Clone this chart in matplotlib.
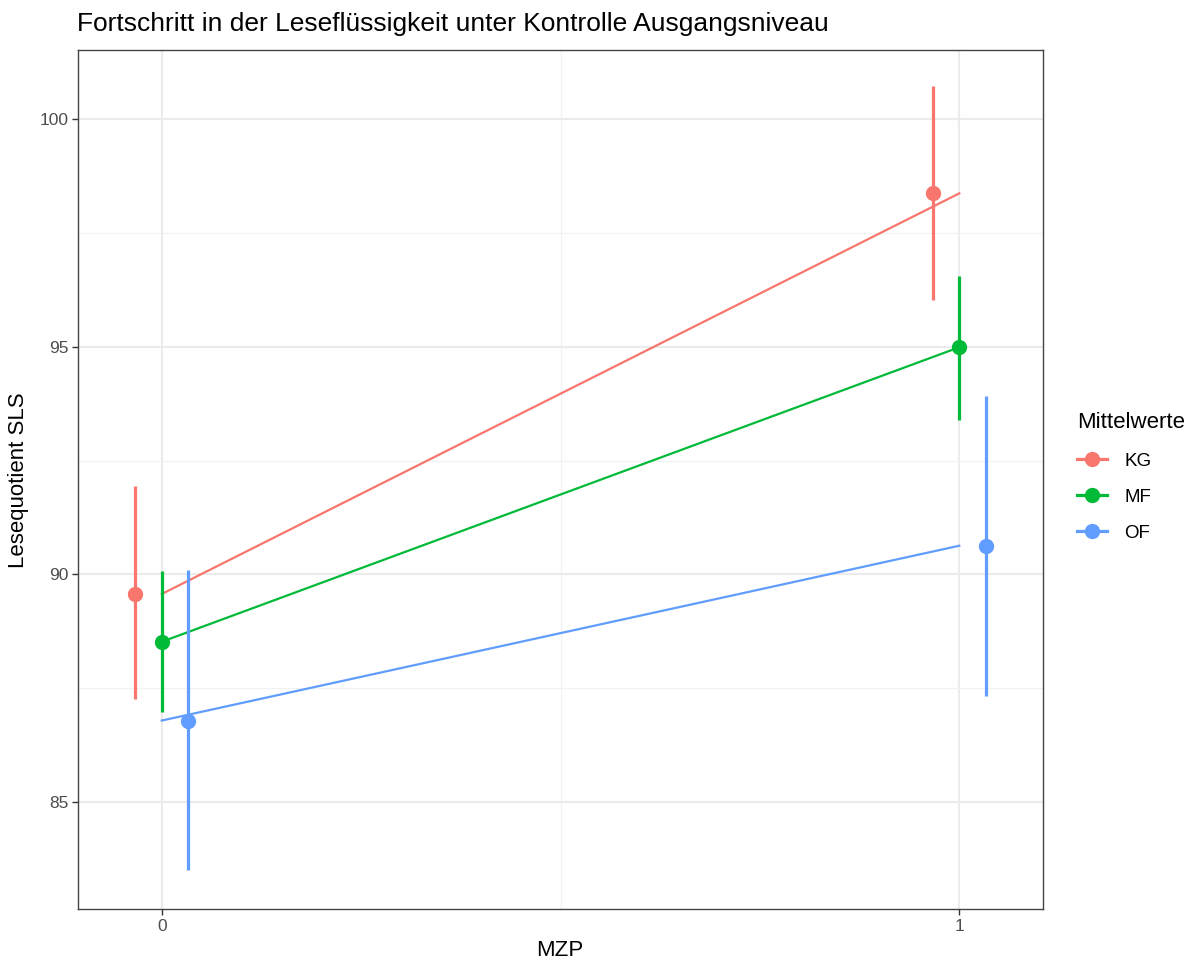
import matplotlib.pyplot as plt
from matplotlib.lines import Line2D

plt.rcParams['font.family'] = ['Liberation Sans', 'DejaVu Sans']

# data
groups = ['KG', 'MF', 'OF']
colors = ['#F8766D', '#00BA38', '#619CFF']
mzp = [0, 1]
dodge = [-0.033, 0.0, 0.033]
means = {'KG': [89.57, 98.37], 'MF': [88.52, 94.99], 'OF': [86.79, 90.63]}
lower = {'KG': [87.27, 96.03], 'MF': [86.98, 93.39], 'OF': [83.51, 87.33]}
upper = {'KG': [91.95, 100.73], 'MF': [90.07, 96.56], 'OF': [90.09, 93.93]}

W, H = 1192, 968
fig = plt.figure(figsize=(W / 100, H / 100), dpi=100)
ax = fig.add_axes([78 / W, 1 - 909 / H, (1043 - 78) / W, (909 - 50) / H])

for g, c, d in zip(groups, colors, dodge):
    # trend line between the two time points
    ax.plot(mzp, means[g], color=c, lw=1.6, zorder=3)
    xs = [x + d for x in mzp]
    ax.vlines(xs, lower[g], upper[g], color=c, lw=2.3, zorder=4)
    ax.plot(xs, means[g], 'o', color=c, ms=10, zorder=5)

ax.set_xlim(-0.105, 1.105)
ax.set_ylim(82.65, 101.52)
ax.set_xticks([0, 1])
ax.set_xticks([0.5], minor=True)
ax.set_yticks([85, 90, 95, 100])
ax.set_yticks([87.5, 92.5, 97.5], minor=True)
ax.grid(which='major', color='#EBEBEB', lw=1.5, zorder=0)
ax.grid(which='minor', color='#F2F2F2', lw=0.9, zorder=0)
ax.set_axisbelow(True)
ax.tick_params(which='major', length=4, width=1, color='#333333',
               labelsize=12.5, labelcolor='#4D4D4D', pad=3)
ax.tick_params(which='minor', length=0)
for s in ax.spines.values():
    s.set_color('#444444')
    s.set_linewidth(1.0)

fig.text(77 / W, 1 - 24 / H, 'Fortschritt in der Leseflüssigkeit unter Kontrolle Ausgangsniveau',
         fontsize=19, va='center', ha='left')
fig.text(560 / W, 1 - 950 / H, 'MZP', fontsize=16, ha='center', va='center')
fig.text(19 / W, 1 - 480 / H, 'Lesequotient SLS', fontsize=16, rotation=90,
         ha='center', va='center')

handles = [Line2D([], [], color=c, marker='o', ms=10, lw=2.3) for c in colors]
leg = fig.legend(handles, groups, title='Mittelwerte', loc='upper left',
                 bbox_to_anchor=(1068 / W, 1 - 403 / H), frameon=False,
                 fontsize=13.5, title_fontsize=16, handlelength=1.6,
                 labelspacing=1.0, handletextpad=0.9, borderpad=0)
leg._legend_box.align = 'left'
leg._legend_box.sep = 14

fig.savefig('out.png', dpi=100)
